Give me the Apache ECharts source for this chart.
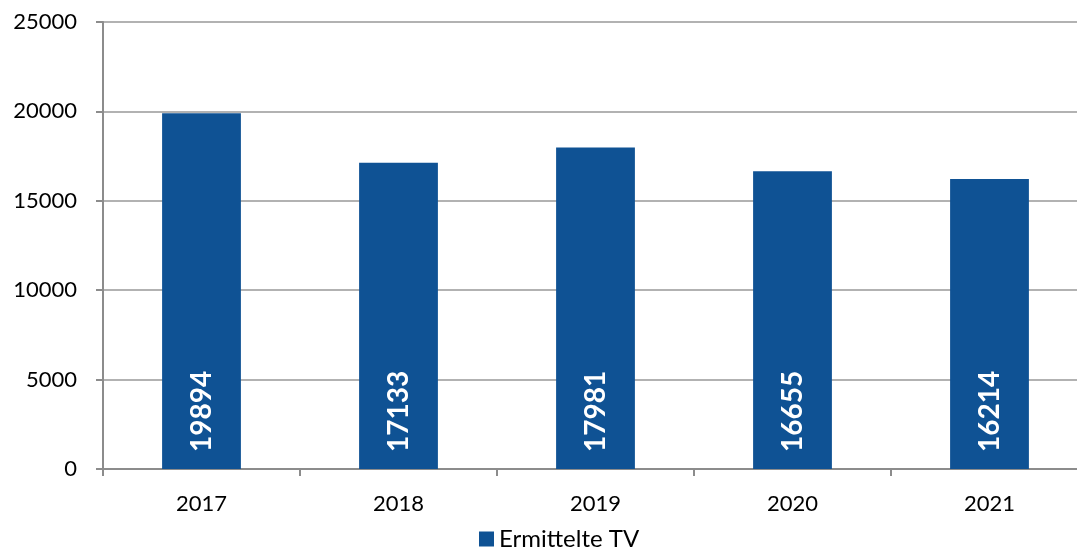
<!DOCTYPE html>
<html><head><meta charset="utf-8">
<script src="https://cdn.jsdelivr.net/npm/echarts@6/dist/echarts.min.js"></script>
<style>html,body{margin:0;padding:0;background:#fff;overflow:hidden;width:1077px;height:550px}#c{width:1100px;height:550px}</style>
</head><body><div id="c"></div>
<script>
const categories = ['2017','2018','2019','2020','2021'];
const values = [19894, 17133, 17981, 16655, 16214];
const seriesName = 'Ermittelte TV';
const yTicks = {min: 0, max: 25000, interval: 5000};
const font = 'Lato, "Open Sans", sans-serif';
const chart = echarts.init(document.getElementById('c'));
chart.setOption({
  animation: false,
  grid: {left: 103, top: 22, width: 985, bottom: 81, containLabel: false},
  legend: {top: 522, left: 474, itemWidth: 15, itemHeight: 15, itemGap: 8, icon: 'rect',
    textStyle: {fontFamily: font, fontSize: 24, color: '#000'}, data: [seriesName]},
  xAxis: {type: 'category', data: categories,
    axisLine: {lineStyle: {color: '#8c8c8c', width: 2}},
    axisTick: {show: true, length: 7, lineStyle: {color: '#8c8c8c', width: 2}},
    axisLabel: {fontFamily: font, fontSize: 22, color: '#000', margin: 24}},
  yAxis: {type: 'value', min: yTicks.min, max: yTicks.max, interval: yTicks.interval,
    axisLine: {show: true, lineStyle: {color: '#8c8c8c', width: 2}},
    axisTick: {show: true, length: 7, lineStyle: {color: '#8c8c8c', width: 2}},
    splitLine: {lineStyle: {color: '#999', width: 1.5}},
    axisLabel: {fontFamily: font, fontSize: 22, color: '#000', margin: 26,
      formatter: v => String(v)}},
  series: [{name: seriesName, type: 'bar', data: values, barWidth: '40%',
    itemStyle: {color: '#0F5294'},
    label: {show: true, position: 'insideBottom', rotate: 90, distance: 17,
      align: 'left', verticalAlign: 'middle',
      fontFamily: font, fontSize: 28, fontWeight: 'bold', color: '#fff'}}]
});
</script></body></html>
